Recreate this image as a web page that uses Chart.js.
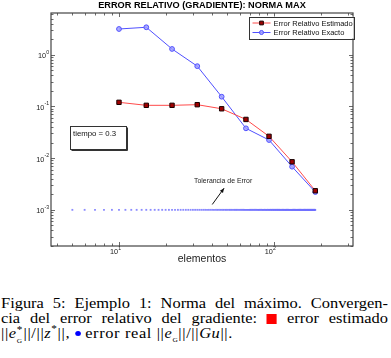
<!DOCTYPE html>
<html><head><meta charset="utf-8">
<script src="https://cdn.jsdelivr.net/npm/chart.js@4/dist/chart.umd.min.js"></script>
<style>
html,body{margin:0;padding:0;background:#fff;}
#wrap{position:absolute;left:0;top:0;width:391px;height:270px;}
#cap{position:absolute;left:1px;top:296px;width:344px;font-family:"Liberation Serif","Times New Roman",serif;font-size:14.6px;line-height:15px;color:#000;transform:scaleX(1.125);transform-origin:0 0;}
.j{text-align:justify;text-align-last:justify;}
.l3{letter-spacing:0.55px;}
.i{font-style:italic;}
.sq{display:inline-block;width:9px;height:10px;background:#ff0000;vertical-align:-1px;}
.dot{display:inline-block;width:5px;height:5px;border-radius:50%;background:#0000ff;vertical-align:2px;}
.ss{display:inline-block;position:relative;width:6px;height:10px;}
.ss .up{position:absolute;left:0;top:-6px;font-size:10px;}
.ss .dn{position:absolute;left:0;top:5px;font-size:6.5px;}
</style>
</head><body>
<div id="wrap"><canvas id="c" width="391" height="270"></canvas></div>
<div id="cap">
<div class="j">Figura 5: Ejemplo 1: Norma del máximo. Convergen-</div>
<div class="j">cia del error relativo del gradiente: <span class="sq"></span> error estimado</div>
<div class="l3">||<span class="i">e</span><span class="ss"><span class="up">*</span><span class="dn">G</span></span>||/||<span class="i">z</span><sup style="font-size:10px;line-height:0">*</sup>||, <span class="dot"></span> error real ||<span class="i">e</span><sub style="font-size:6.5px;line-height:0">G</sub>||/||<span class="i">Gu</span>||.</div>
</div>
<script>
// ---- data ----
const xElementos   = [10, 15, 22, 32, 46, 66, 93, 131, 185];
const errorEstimado = [0.12, 0.105, 0.105, 0.108, 0.090, 0.056, 0.0264, 0.0085, 0.00234];
const errorExacto   = [3.14, 3.39, 1.29, 0.60, 0.154, 0.0377, 0.0224, 0.00683, 0.00221];
const tolX = [5,6,7,8,9,10,11,12,13,14,15,16,17,18,19,20,21,22,23,24,25,26,27,28,29,30,31,32,33,34,35,36,37,38,39,40,41,42,43,44,45,46,47,48,49,50,51,52,53,54,55,56,57,58,59,60,61,62,63,64,65,66,67,68,69,70,71,72,73,74,75,76,77,78,79,80,81,82,83,84,85,86,87,88,89,90,91,92,93,94,95,96,97,98,99,100,101,102,103,104,105,106,107,108,109,110,111,112,113,114,115,116,117,118,119,120,121,122,123,124,125,126,127,128,129,130,131,132,133,134,135,136,137,138,139,140,141,142,143,144,145,146,147,148,149,150,151,152,153,154,155,156,157,158,159,160,161,162,163,164,165,166,167,168,169,170,171,172,173,174,175,176,177,178,179,180,181,182,183,184,185];
const tolerancia = 1e-3;
const xTickValues = [10, 100];
const xTickExp    = ['1', '2'];
const yTickValues = [1e-3, 1e-2, 1e-1, 1];
const yTickExp    = ['-3', '-2', '-1', '0'];
const xRange = [3.64, 324];
const yRange = [2.0e-4, 6.4];
const seriesNames = ['Error Relativo Estimado', 'Error Relativo Exacto'];
const titleText = 'ERROR RELATIVO (GRADIENTE): NORMA MAX';
const xLabel = 'elementos';
const boxText = 'tiempo = 0.3';
const boxPos = [4.83, 11.05, 0.0418, 0.0150];          // x0, x1, yTop, yBottom (data units)
const annText = 'Tolerancia de Error';
const annTextPos = [30.5, 3.64e-3];
const arrowFrom = [40, 1.27e-3];
const arrowTo = [47.7, 2.63e-3];

const RED_LINE = '#ff4a4a', RED_FILL = '#a00000', RED_EDGE = '#1a0000';
const BLUE_LINE = '#5050ff', BLUE_FILL = 'rgba(160,160,255,0.85)';
const AX = '#444';
const SANS = '"Liberation Sans", Arial, Helvetica, sans-serif';

function pow10(ctx, exp, x, y, mode) {
  ctx.save();
  ctx.fillStyle = '#222';
  ctx.font = '7.3px ' + SANS;
  const wb = ctx.measureText('10').width;
  ctx.font = '5.2px ' + SANS;
  const we = ctx.measureText(exp).width;
  let bx;
  if (mode === 'y') bx = x - we - wb; else bx = x - wb - 1;
  ctx.textBaseline = 'middle'; ctx.textAlign = 'left';
  ctx.font = '7.3px ' + SANS;
  ctx.fillText('10', bx, mode === 'y' ? y + 1.5 : y);
  ctx.font = '5.2px ' + SANS;
  ctx.fillText(exp, bx + wb + 0.2, mode === 'y' ? y - 2.5 : y - 3.5);
  ctx.restore();
}

const decor = {
  id: 'decor',
  afterDatasetsDraw(chart) {
    const ctx = chart.ctx, a = chart.chartArea, xs = chart.scales.x, ys = chart.scales.y;
    ctx.save();
    // axes box
    ctx.strokeStyle = AX; ctx.lineWidth = 1.2;
    ctx.strokeRect(a.left, a.top, a.right - a.left, a.bottom - a.top);
    // ticks
    ctx.lineWidth = 0.8;
    for (let d = -5; d <= 3; d++) {
      for (let m = 1; m <= 9; m++) {
        const v = m * Math.pow(10, d);
        const len = m === 1 ? 4 : 2.5;
        if (v >= xRange[0] && v <= xRange[1]) {
          const px = Math.round(xs.getPixelForValue(v)) + 0.5;
          ctx.beginPath();
          ctx.moveTo(px, a.bottom); ctx.lineTo(px, a.bottom - len);
          ctx.moveTo(px, a.top); ctx.lineTo(px, a.top + len);
          ctx.stroke();
        }
        if (v >= yRange[0] && v <= yRange[1]) {
          const py = Math.round(ys.getPixelForValue(v)) + 0.5;
          ctx.beginPath();
          ctx.moveTo(a.left, py); ctx.lineTo(a.left + len, py);
          ctx.moveTo(a.right, py); ctx.lineTo(a.right - len, py);
          ctx.stroke();
        }
      }
    }
    // tick labels
    xTickValues.forEach((v, i) => pow10(ctx, xTickExp[i], xs.getPixelForValue(v), a.bottom + 6, 'x'));
    yTickValues.forEach((v, i) => pow10(ctx, yTickExp[i], a.left - 2, ys.getPixelForValue(v), 'y'));
    // x label
    ctx.fillStyle = '#222';
    ctx.font = '10.5px ' + SANS; ctx.textAlign = 'center'; ctx.textBaseline = 'middle';
    ctx.fillText(xLabel, (a.left + a.right) / 2, a.bottom + 13.5);

    // tiempo box
    const bx0 = xs.getPixelForValue(boxPos[0]), bx1 = xs.getPixelForValue(boxPos[1]);
    const by0 = ys.getPixelForValue(boxPos[2]), by1 = ys.getPixelForValue(boxPos[3]);
    ctx.fillStyle = '#fff';
    ctx.fillRect(bx0, by0, bx1 - bx0, by1 - by0);
    ctx.strokeStyle = '#333'; ctx.lineWidth = 1;
    ctx.strokeRect(Math.round(bx0) + 0.5, Math.round(by0) + 0.5, Math.round(bx1 - bx0), Math.round(by1 - by0));
    ctx.lineWidth = 1;
    ctx.beginPath();
    ctx.moveTo(Math.round(bx0) + 1.5, Math.round(by1) + 1.5); ctx.lineTo(Math.round(bx1) + 1.5, Math.round(by1) + 1.5);
    ctx.lineTo(Math.round(bx1) + 1.5, Math.round(by0) + 1.5);
    ctx.stroke();
    ctx.fillStyle = '#111'; ctx.font = '7.8px ' + SANS; ctx.textAlign = 'left'; ctx.textBaseline = 'middle';
    ctx.fillText(boxText, bx0 + 3, by0 + 8);

    // annotation
    ctx.font = '6.9px ' + SANS; ctx.fillStyle = '#222';
    ctx.fillText(annText, xs.getPixelForValue(annTextPos[0]), ys.getPixelForValue(annTextPos[1]));
    const ax0 = xs.getPixelForValue(arrowFrom[0]), ay0 = ys.getPixelForValue(arrowFrom[1]);
    const ax1 = xs.getPixelForValue(arrowTo[0]), ay1 = ys.getPixelForValue(arrowTo[1]);
    ctx.strokeStyle = '#111'; ctx.lineWidth = 1;
    ctx.beginPath(); ctx.moveTo(ax0, ay0); ctx.lineTo(ax1, ay1); ctx.stroke();
    const ang = Math.atan2(ay1 - ay0, ax1 - ax0);
    ctx.fillStyle = '#111';
    ctx.beginPath();
    ctx.moveTo(ax1, ay1);
    ctx.lineTo(ax1 - 5 * Math.cos(ang - 0.4), ay1 - 5 * Math.sin(ang - 0.4));
    ctx.lineTo(ax1 - 5 * Math.cos(ang + 0.4), ay1 - 5 * Math.sin(ang + 0.4));
    ctx.closePath(); ctx.fill();

    // legend
    const lr = a.right + 0.5, ll = lr - 105, lt = a.top + 3.5, lb = a.top + 25.5;
    ctx.fillStyle = '#fff'; ctx.fillRect(ll, lt, lr - ll, lb - lt);
    ctx.strokeStyle = '#333'; ctx.lineWidth = 1; ctx.strokeRect(Math.round(ll) + 0.5, Math.round(lt) + 0.5, Math.round(lr - ll), Math.round(lb - lt));
    const rows = [lt + 6.5, lt + 16];
    chart.data.datasets.slice(0, 2).forEach((ds, i) => {
      const y = rows[i];
      ctx.strokeStyle = ds.borderColor; ctx.lineWidth = 1;
      ctx.beginPath(); ctx.moveTo(ll + 4, y); ctx.lineTo(ll + 22, y); ctx.stroke();
      ctx.fillStyle = ds.pointBackgroundColor; ctx.strokeStyle = ds.pointBorderColor; ctx.lineWidth = 1;
      Chart.helpers.drawPoint(ctx, {pointStyle: ds.pointStyle, radius: ds.pointRadius * 0.85, borderWidth: 1}, ll + 13, y);
      ctx.fillStyle = '#111'; ctx.font = '7.5px ' + SANS; ctx.textAlign = 'left'; ctx.textBaseline = 'middle';
      ctx.fillText(ds.label, ll + 25, y + 0.5);
    });
    ctx.restore();
  }
};

const toPts = (xsArr, ysArr) => xsArr.map((x, i) => ({x: x, y: ysArr[i]}));

new Chart(document.getElementById('c'), {
  type: 'scatter',
  data: {
    datasets: [
      {label: seriesNames[0], data: toPts(xElementos, errorEstimado), showLine: true,
       borderColor: RED_LINE, borderWidth: 1, pointStyle: 'rect', pointRadius: 3.1,
       pointBackgroundColor: RED_FILL, pointBorderColor: RED_EDGE, pointBorderWidth: 1, order: 1},
      {label: seriesNames[1], data: toPts(xElementos, errorExacto), showLine: true,
       borderColor: BLUE_LINE, borderWidth: 1, pointStyle: 'circle', pointRadius: 2.4,
       pointBackgroundColor: BLUE_FILL, pointBorderColor: BLUE_LINE, pointBorderWidth: 1, order: 2},
      {label: 'tol', data: tolX.map(x => ({x: x, y: tolerancia})), showLine: false,
       pointStyle: 'rect', pointRadius: 1.3, pointBorderWidth: 0,
       pointBackgroundColor: 'rgba(110,110,255,0.8)', order: 3}
    ]
  },
  options: {
    responsive: false, animation: false, devicePixelRatio: 1,
    layout: {padding: {left: 51, right: 38, top: 0, bottom: 24}},
    scales: {
      x: {type: 'logarithmic', min: xRange[0], max: xRange[1], display: false},
      y: {type: 'logarithmic', min: yRange[0], max: yRange[1], display: false}
    },
    plugins: {
      legend: {display: false}, tooltip: {enabled: false},
      title: {display: true, text: titleText, color: '#000',
              font: {family: SANS, size: 9.2, weight: 'bold', lineHeight: 1.2},
              padding: {top: 0, bottom: 1.96}}
    }
  },
  plugins: [decor]
});
</script>
</body></html>
